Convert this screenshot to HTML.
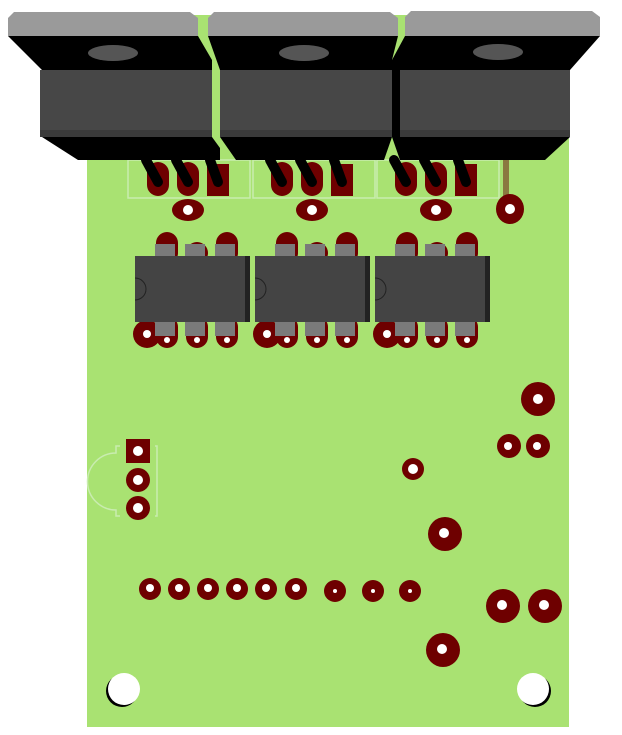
<!DOCTYPE html>
<html><head><style>html,body{margin:0;padding:0;background:#fff;}svg{display:block}</style></head>
<body>
<svg width="622" height="735" viewBox="0 0 622 735" xmlns="http://www.w3.org/2000/svg">
<rect x="87" y="15" width="482" height="712" fill="#a9e272"/>
<g fill="none" stroke="#c9ecb0" stroke-width="1.5">
<rect x="128" y="160" width="122" height="38"/><rect x="253" y="160" width="122" height="38"/><rect x="377" y="160" width="122" height="38"/>
<path d="M120 446 L116 446 L116 453 A28 28 0 0 0 116 510 L116 516 L120 516"/>
<path d="M155 446 L157 446 L157 516 L155 516"/>
</g>
<rect x="503" y="160" width="6" height="38" fill="#8a7a40"/>
<defs>
<g id="leads" stroke="#000" stroke-width="10" stroke-linecap="round">
 <line x1="-12" y1="-5" x2="0" y2="17"/><line x1="18" y1="-5" x2="30" y2="17"/><line x1="52" y1="-5" x2="60" y2="17"/>
</g>
<g id="tpads" fill="#6e0000">
 <rect x="-11" y="0" width="22" height="34" rx="11"/><rect x="19" y="0" width="22" height="34" rx="11"/><rect x="49" y="2" width="22" height="32"/>
</g>
<g id="ic">
 <g fill="#6e0000">
  <rect x="21" y="-24" width="22" height="32" rx="11"/><rect x="51" y="-14" width="22" height="22" rx="11"/><rect x="81" y="-24" width="22" height="32" rx="11"/>
  <rect x="21" y="60" width="22" height="32" rx="11"/><rect x="51" y="60" width="22" height="32" rx="11"/><rect x="81" y="60" width="22" height="32" rx="11"/>
  <circle cx="12" cy="78" r="14"/>
 </g>
 <g fill="#7a7a7a"><rect x="20" y="-12" width="20" height="12"/><rect x="50" y="-12" width="20" height="12"/><rect x="80" y="-12" width="20" height="12"/>
 <rect x="20" y="66" width="20" height="14"/><rect x="50" y="66" width="20" height="14"/><rect x="80" y="66" width="20" height="14"/></g>
 <rect x="0" y="0" width="115" height="66" fill="#444"/>
 <rect x="110" y="0" width="5" height="66" fill="#222"/>
 <path d="M0 22 A11 11 0 0 1 0 44" fill="none" stroke="#222" stroke-width="1"/>
 <g fill="#fff"><circle cx="12" cy="78" r="4"/><circle cx="32" cy="84" r="3"/><circle cx="62" cy="84" r="3"/><circle cx="92" cy="84" r="3"/></g>
</g>
</defs>
<use href="#tpads" x="158" y="162"/><use href="#tpads" x="282" y="162"/><use href="#tpads" x="406" y="162"/>
<use href="#ic" x="135" y="256"/><use href="#ic" x="255" y="256"/><use href="#ic" x="375" y="256"/>
<g fill="#6e0000">
<ellipse cx="188" cy="210" rx="16" ry="11"/><ellipse cx="312" cy="210" rx="16" ry="11"/><ellipse cx="436" cy="210" rx="16" ry="11"/><ellipse cx="510" cy="209" rx="14" ry="15"/>
<circle cx="538" cy="399" r="17"/><circle cx="509" cy="446" r="12"/><circle cx="538" cy="446" r="12"/><circle cx="413" cy="469" r="11"/>
<circle cx="445" cy="534" r="17"/><circle cx="503" cy="606" r="17"/><circle cx="545" cy="606" r="17"/><circle cx="443" cy="650" r="17"/>
<rect x="126" y="439" width="24" height="24"/><circle cx="138" cy="480" r="12"/><circle cx="138" cy="508" r="12"/>
<circle cx="150" cy="589" r="11"/><circle cx="179" cy="589" r="11"/><circle cx="208" cy="589" r="11"/><circle cx="237" cy="589" r="11"/><circle cx="266" cy="589" r="11"/><circle cx="296" cy="589" r="11"/>
<circle cx="335" cy="591" r="11"/><circle cx="373" cy="591" r="11"/><circle cx="410" cy="591" r="11"/>
</g>
<g fill="#fff">
<circle cx="188" cy="210" r="5"/><circle cx="312" cy="210" r="5"/><circle cx="436" cy="210" r="5"/><circle cx="510" cy="209" r="5"/>
<circle cx="538" cy="399" r="5"/><circle cx="508" cy="446" r="4"/><circle cx="537" cy="446" r="4"/><circle cx="413" cy="469" r="5"/>
<circle cx="444" cy="533" r="5"/><circle cx="502" cy="605" r="5"/><circle cx="544" cy="605" r="5"/><circle cx="442" cy="649" r="5"/>
<circle cx="138" cy="451" r="5"/><circle cx="138" cy="480" r="5"/><circle cx="138" cy="508" r="5"/>
<circle cx="150" cy="588" r="4"/><circle cx="179" cy="588" r="4"/><circle cx="208" cy="588" r="4"/><circle cx="237" cy="588" r="4"/><circle cx="266" cy="588" r="4"/><circle cx="296" cy="588" r="4"/>
<circle cx="335" cy="591" r="2"/><circle cx="373" cy="591" r="2"/><circle cx="410" cy="591" r="2"/>
<circle cx="158" cy="183" r="3"/><circle cx="188" cy="183" r="3"/><circle cx="218" cy="183" r="3"/>
<circle cx="282" cy="183" r="3"/><circle cx="312" cy="183" r="3"/><circle cx="342" cy="183" r="3"/>
<circle cx="406" cy="183" r="3"/><circle cx="436" cy="183" r="3"/><circle cx="466" cy="183" r="3"/>
</g>
<circle cx="122" cy="691" r="16" fill="#000"/><circle cx="124" cy="689" r="16" fill="#fff"/>
<circle cx="535" cy="691" r="16" fill="#000"/><circle cx="533" cy="689" r="16" fill="#fff"/>
<use href="#leads" x="158" y="165"/><use href="#leads" x="282" y="165"/><use href="#leads" x="406" y="165"/>
<!-- T1 -->
<path d="M8 36 H198 L212 60 V137 L220 148 V160 H78 L42 137 V70 Z" fill="#000"/>
<rect x="40" y="70" width="172" height="67" fill="#474747"/><rect x="40" y="130" width="172" height="7" fill="#3a3a3a"/>
<ellipse cx="113" cy="53" rx="25" ry="8" fill="#555"/>
<path d="M14 12 H190 L198 18 V36 H8 V18 Z" fill="#9a9a9a"/>
<!-- T2 -->
<path d="M208 36 H398 L392 60 V137 L384 160 H236 L220 137 V70 Z" fill="#000"/>
<rect x="220" y="70" width="172" height="67" fill="#474747"/><rect x="220" y="130" width="172" height="7" fill="#3a3a3a"/>
<ellipse cx="304" cy="53" rx="25" ry="8" fill="#555"/>
<path d="M214 12 H390 L398 18 V36 H208 V18 Z" fill="#9a9a9a"/>
<!-- T3 -->
<path d="M405 36 H600 L570 70 V137 L545 160 H400 L392 137 V60 Z" fill="#000"/>
<rect x="400" y="70" width="170" height="67" fill="#474747"/><rect x="400" y="130" width="170" height="7" fill="#3a3a3a"/>
<ellipse cx="498" cy="52" rx="25" ry="8" fill="#555"/>
<path d="M411 11 H592 L600 17 V36 H405 V17 Z" fill="#9a9a9a"/>
</svg>
</body></html>
